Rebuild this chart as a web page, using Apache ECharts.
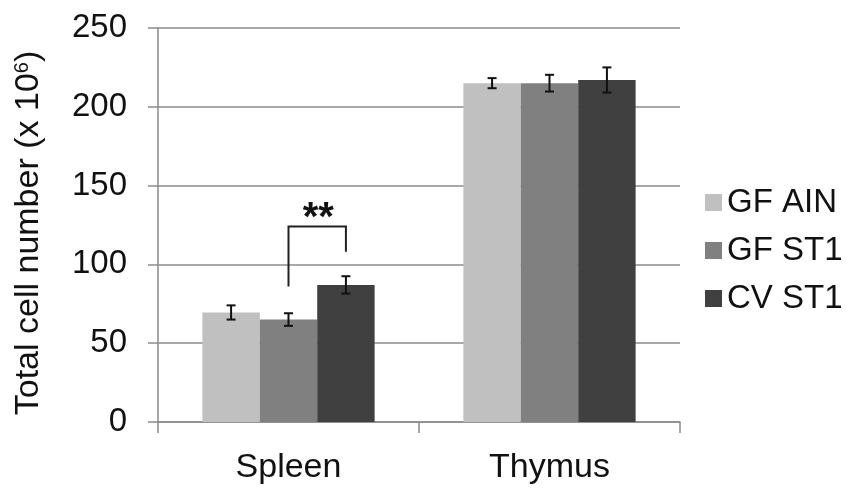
<!DOCTYPE html>
<html>
<head>
<meta charset="utf-8">
<script src="https://cdn.jsdelivr.net/npm/echarts@6/dist/echarts.min.js"></script>
<style>html,body{margin:0;padding:0;background:#fff}#c{width:846px;height:495px}</style>
</head>
<body>
<div id="c"></div>
<script>
// ---- data ----
var categories = ['Spleen', 'Thymus'];
var seriesNames = ['GF AIN', 'GF ST1', 'CV ST1'];
var gfAin = [69.5, 215];
var gfSt1 = [65, 215];
var cvSt1 = [87, 217];
var gfAinErr = [4.5, 3.2];
var gfSt1Err = [4, 5.3];
var cvSt1Err = [5.5, 8];
var yTicks = [0, 50, 100, 150, 200, 250];
// significance bracket: [category index, left bar index, right bar index, left end, top, right end]
var bracket = [[0, 1, 2, 86, 124, 108]];
var bracketLabel = '**';

var colors = ['#c0c0c0', '#808080', '#404040'];
var FONT = '"Liberation Sans", Arial, sans-serif';
var CAT_GAP = 0.34;

var values = [gfAin, gfSt1, cvSt1];
var errs = [gfAinErr, gfSt1Err, cvSt1Err];

var errData = [];
for (var s = 0; s < values.length; s++) {
  for (var c = 0; c < categories.length; c++) {
    errData.push([c, values[s][c], errs[s][c], s]);
  }
}

function barOffset(api, idx) {
  var band = api.size([1, 0])[0];
  var bw = band * (1 - CAT_GAP) / seriesNames.length;
  return (idx - (seriesNames.length - 1) / 2) * bw;
}

var chart = echarts.init(document.getElementById('c'));
var series = seriesNames.map(function (n, i) {
  return {
    name: n, type: 'bar', data: values[i],
    barGap: '0%', barCategoryGap: (CAT_GAP * 100) + '%',
    itemStyle: { color: colors[i] },
    emphasis: { disabled: true }
  };
});
series.push({
  type: 'custom',
  data: errData,
  encode: { x: 0, y: 1 },
  z: 10,
  silent: true,
  renderItem: function (params, api) {
    var c = api.value(0), v = api.value(1), e = api.value(2), s = api.value(3);
    var off = barOffset(api, s);
    var hi = api.coord([c, v + e]);
    var lo = api.coord([c, v - e]);
    var x = hi[0] + off;
    var cap = 4.5;
    var st = { stroke: '#111', lineWidth: 2 };
    return {
      type: 'group',
      children: [
        { type: 'line', shape: { x1: x, y1: hi[1], x2: x, y2: lo[1] }, style: st },
        { type: 'line', shape: { x1: x - cap, y1: hi[1], x2: x + cap, y2: hi[1] }, style: st },
        { type: 'line', shape: { x1: x - cap, y1: lo[1], x2: x + cap, y2: lo[1] }, style: st }
      ]
    };
  }
});
series.push({
  type: 'custom',
  data: bracket,
  encode: { x: 0, y: 4 },
  z: 10,
  silent: true,
  renderItem: function (params, api) {
    var c = api.value(0);
    var xl = api.coord([c, 0])[0] + barOffset(api, api.value(1));
    var xr = api.coord([c, 0])[0] + barOffset(api, api.value(2));
    var yl = api.coord([c, api.value(3)])[1];
    var yt = api.coord([c, api.value(4)])[1];
    var yr = api.coord([c, api.value(5)])[1];
    return {
      type: 'group',
      children: [
        { type: 'polyline', shape: { points: [[xl, yl], [xl, yt], [xr, yt], [xr, yr]] },
          style: { stroke: '#222', lineWidth: 2, fill: null } },
        { type: 'text', x: (xl + xr) / 2 + 1, y: yt - 8,
          style: { text: bracketLabel, font: 'bold 40px ' + FONT, fill: '#111', align: 'center', verticalAlign: 'middle' } }
      ]
    };
  }
});

chart.setOption({
  animation: false,
  textStyle: { fontFamily: FONT },
  grid: { left: 158, right: 166, top: 28, bottom: 73, containLabel: false },
  legend: {
    orient: 'vertical', left: 700, top: 181,
    data: seriesNames,
    itemWidth: 17, itemHeight: 17, itemGap: 15,
    icon: 'rect',
    textStyle: { fontSize: 33, color: '#111', fontFamily: FONT, lineHeight: 33, padding: [0, 0, 0, 0] },
    selectedMode: false
  },
  xAxis: {
    type: 'category', data: categories,
    axisLine: { lineStyle: { color: '#8a8a8a', width: 1.5 } },
    axisTick: { show: true, length: 11, lineStyle: { color: '#8a8a8a', width: 1.5 } },
    axisLabel: { fontSize: 34, color: '#111', margin: 29, fontFamily: FONT }
  },
  yAxis: {
    type: 'value', min: 0, max: 250, interval: 50,
    name: 'Total cell number (x 10{sup|6})',
    nameLocation: 'middle', nameGap: 112,
    nameTextStyle: { fontSize: 34, color: '#111', fontFamily: FONT, padding: [0, 16, 0, 0],
      rich: { sup: { fontSize: 20, verticalAlign: 'top', padding: [0, 0, 14, 0], fontFamily: FONT, color: '#111' } } },
    axisLine: { show: true, lineStyle: { color: '#8a8a8a', width: 1.5 } },
    axisTick: { show: true, length: 10, lineStyle: { color: '#8a8a8a', width: 1.5 } },
    splitLine: { lineStyle: { color: '#a8a8a8', width: 2 } },
    axisLabel: { fontSize: 33, color: '#111', margin: 31, fontFamily: FONT,
      formatter: function (v) { return yTicks.indexOf(v) >= 0 ? String(v) : ''; } }
  },
  series: series
});
</script>
</body>
</html>
